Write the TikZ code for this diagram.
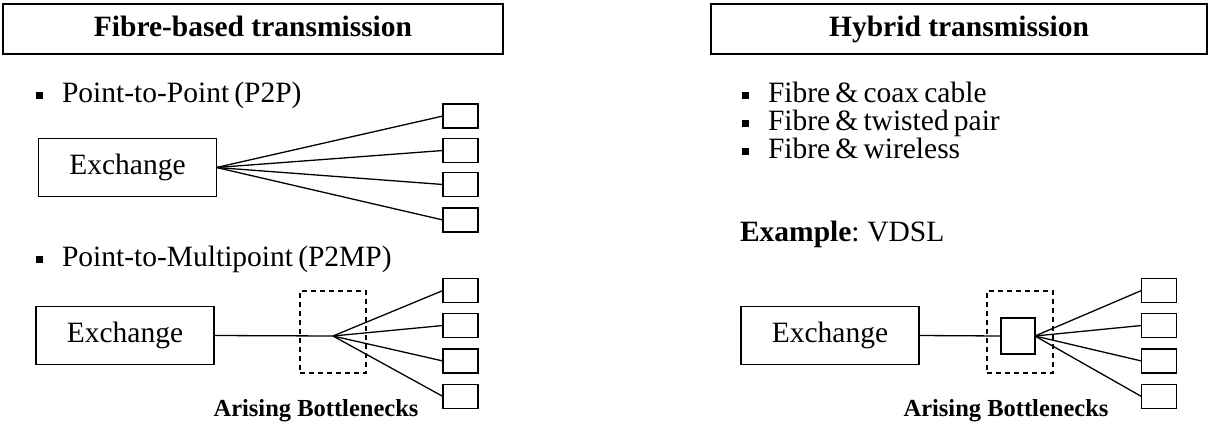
\documentclass[tikz,border=0pt]{standalone}
\usepackage{fontspec}
\setmainfont{Liberation Serif}
\newfontfamily\tightserif[WordSpace=0.7]{Liberation Serif}
\begin{document}
\begin{tikzpicture}[x=1pt,y=-1pt,
  every node/.style={inner sep=0pt, outer sep=0pt},
  line/.style={line width=1.3pt},
  header/.style={draw, line width=1.5pt, minimum height=50pt, text height=20pt, text depth=6pt, font=\fontsize{29.5}{34}\selectfont\bfseries},
  exch/.style={draw, line width=1.5pt, minimum width=178pt, minimum height=58pt, text height=20pt, text depth=6pt, font=\fontsize{29.5}{34}\selectfont},
  term/.style={draw, line width=1.5pt, minimum width=35pt, minimum height=24pt},
  hub/.style={draw, line width=1.5pt, minimum width=34pt, minimum height=36pt},
  zone/.style={draw, dash pattern=on 5pt off 4pt, line width=1.3pt, minimum width=66pt, minimum height=82pt},
  bodytext/.style={anchor=base west, font=\fontsize{29.5}{34}\selectfont\tightserif},
  note/.style={anchor=base, font=\fontsize{24.5}{28}\selectfont\bfseries},
  bullet/.style={fill, minimum size=7pt}
]
\useasboundingbox (0,0) rectangle (1210,423);

% ---- fibre-based transmission ----
\node[header, minimum width=500pt] (hdrL) at (253,29) {Fibre-based transmission};

\node[bullet] (bL1) at (39.5,95.5) {};
\node[bodytext] (tL1) at (62,102) {Point-to-Point (P2P)};

\node[exch] (exA) at (127.5,167.5) {Exchange};
\foreach \i/\yy in {1/116,2/150.5,3/184.5,4/220}
  \node[term] (tA\i) at (460.5,\yy) {};
\foreach \i in {1,...,4}
  \draw[line] (exA.east) -- (tA\i.west);

\node[bullet] (bL2) at (39.5,259.5) {};
\node[bodytext] (tL2) at (62,266.5) {Point-to-Multipoint (P2MP)};

\node[exch] (exB) at (125,335.5) {Exchange};
\node[zone] (zB) at (333,332) {};
\coordinate (splitB) at (333,336);
\foreach \i/\yy in {1/290.5,2/325.5,3/361,4/396.5}
  \node[term] (tB\i) at (460.5,\yy) {};
\draw[line] (exB.east) -- (splitB);
\foreach \i in {1,...,4}
  \draw[line] (splitB) -- (tB\i.west);
\node[note] (nB) at (316,416) {Arising Bottlenecks};

% ---- hybrid transmission ----
\node[header, minimum width=496pt] (hdrR) at (959,29) {Hybrid transmission};

\node[bullet] (bR1) at (745,95.5) {};
\node[bodytext] (tR1) at (768,102) {Fibre \& coax cable};
\node[bullet] (bR2) at (745,123.5) {};
\node[bodytext] (tR2) at (768,130) {Fibre \& twisted pair};
\node[bullet] (bR3) at (745,151.5) {};
\node[bodytext] (tR3) at (768,158) {Fibre \& wireless};

\node[bodytext] (ex) at (740,241.5) {\textbf{Example}: VDSL};

\node[exch] (exC) at (830,335.5) {Exchange};
\node[zone] (zC) at (1020,332) {};
\node[hub] (hubC) at (1018,336) {};
\foreach \i/\yy in {1/290.5,2/325.5,3/361,4/396.5}
  \node[term] (tC\i) at (1159,\yy) {};
\draw[line] (exC.east) -- (hubC.west);
\foreach \i in {1,...,4}
  \draw[line] (hubC.east) -- (tC\i.west);
\node[note] (nC) at (1006,416) {Arising Bottlenecks};
\end{tikzpicture}
\end{document}
